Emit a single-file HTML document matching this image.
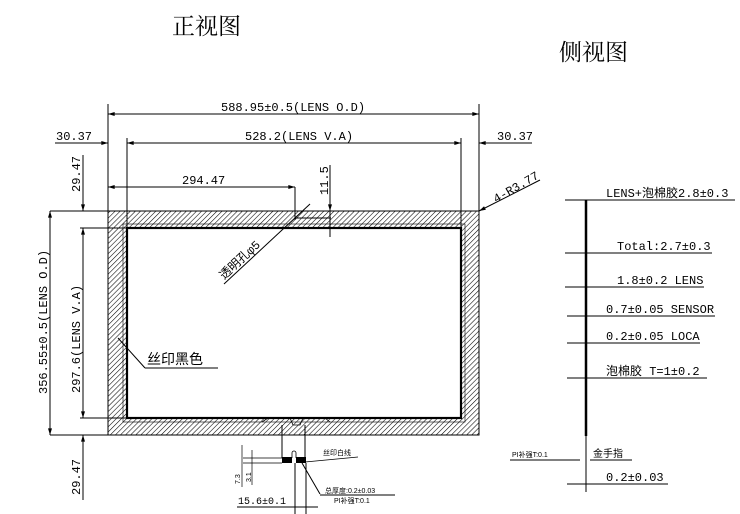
<!DOCTYPE html>
<html><head><meta charset="utf-8"><style>
html,body{margin:0;padding:0;background:#fff}
svg{display:block}
text{font-family:"Liberation Mono","Noto Sans CJK SC",monospace;fill:#000}
.d{font-size:12px}
.s{font-size:7px;font-family:"Liberation Sans","Noto Sans CJK SC",sans-serif}
</style></head><body>
<svg width="740" height="514" viewBox="0 0 740 514" xmlns="http://www.w3.org/2000/svg">
<defs>
<pattern id="h" patternUnits="userSpaceOnUse" width="3.6" height="3.6" patternTransform="rotate(45)">
<line x1="0" y1="0" x2="0" y2="3.6" stroke="#000" stroke-width="1.1"/>
</pattern>
<marker id="a" viewBox="0 0 10 6" refX="10" refY="3" markerWidth="9" markerHeight="4" orient="auto-start-reverse"><path d="M0,0 L10,3 L0,6z" fill="#000"/></marker>
</defs>
<text x="172" y="34" style="font-size:23px;font-family:'Liberation Serif','Noto Serif CJK SC',serif">正视图</text>
<text x="559" y="60" style="font-size:23px;font-family:'Liberation Serif','Noto Serif CJK SC',serif">侧视图</text>

<g stroke="#000" fill="none" stroke-width="1">
<path d="M108,211 H479 V435 H108 Z M127,228 V418 H461 V228 Z" fill="url(#h)" fill-rule="evenodd" stroke="none"/>
<rect x="108" y="211" width="371" height="224"/>
<rect x="127" y="228" width="334" height="190" stroke-width="2.2"/>
<rect x="123" y="224" width="342" height="198" stroke-width="0.6"/>
<line x1="108" y1="104" x2="108" y2="211"/>
<line x1="479" y1="104" x2="479" y2="211"/>
<line x1="127" y1="138" x2="127" y2="228"/>
<line x1="461" y1="138" x2="461" y2="228"/>
<line x1="50" y1="211" x2="108" y2="211"/>
<line x1="80" y1="228" x2="127" y2="228"/>
<line x1="80" y1="418" x2="127" y2="418"/>
<line x1="50" y1="435" x2="108" y2="435"/>
<line x1="108" y1="114" x2="479" y2="114" marker-start="url(#a)" marker-end="url(#a)"/>
<line x1="127" y1="143" x2="461" y2="143" marker-start="url(#a)" marker-end="url(#a)"/>
<line x1="55" y1="143" x2="108" y2="143" marker-end="url(#a)"/>
<line x1="479" y1="143" x2="532" y2="143" marker-start="url(#a)"/>
<line x1="108" y1="187" x2="295" y2="187" marker-start="url(#a)" marker-end="url(#a)"/>
<line x1="295" y1="187" x2="295" y2="220"/>
<line x1="295" y1="218" x2="331" y2="218"/>
<line x1="330" y1="165" x2="330" y2="237"/>
<line x1="330" y1="200" x2="330" y2="211" marker-end="url(#a)"/>
<line x1="310" y1="204" x2="224" y2="284"/>
<line x1="540" y1="180" x2="479" y2="211" marker-end="url(#a)"/>
<line x1="83" y1="155" x2="83" y2="211" marker-end="url(#a)"/>
<line x1="83" y1="228" x2="83" y2="418" marker-start="url(#a)" marker-end="url(#a)"/>
<line x1="50" y1="211" x2="50" y2="435" marker-start="url(#a)" marker-end="url(#a)"/>
<line x1="83" y1="435" x2="83" y2="500" marker-start="url(#a)"/>
<line x1="118" y1="338" x2="145" y2="368"/>
<line x1="145" y1="368" x2="218" y2="368"/>
<path d="M262,422 L268,418 H290 L293,425 H300 L303,418 H325 L330,422" stroke-width="0.8"/>
<line x1="282" y1="425" x2="282" y2="458"/>
<line x1="305" y1="425" x2="305" y2="458"/>
<line x1="243" y1="458" x2="282" y2="458" stroke-width="0.7"/>
<line x1="243" y1="463" x2="282" y2="463" stroke-width="0.7"/>
<line x1="242" y1="445" x2="242" y2="487" stroke-width="0.7"/>
<line x1="252" y1="450" x2="252" y2="485" stroke-width="0.7"/>
<line x1="295" y1="463" x2="295" y2="514"/>
<line x1="306" y1="463" x2="306" y2="514"/>
<line x1="237" y1="507" x2="318" y2="507"/>
<line x1="305" y1="462" x2="358" y2="457" stroke-width="0.7"/>
<line x1="302" y1="463" x2="320" y2="494"/>
<line x1="320" y1="495" x2="395" y2="495"/>
<path d="M292,458 V453 A2,2 0 0 1 296,453 V458" stroke-width="0.8"/>
<line x1="586" y1="200" x2="586" y2="436" stroke-width="2.5"/>
<line x1="586" y1="436" x2="586" y2="492"/>
<line x1="565" y1="200" x2="735" y2="200"/>
<line x1="565" y1="253" x2="712" y2="253"/>
<line x1="565" y1="287" x2="704" y2="287"/>
<line x1="567" y1="316" x2="715" y2="316"/>
<line x1="567" y1="343" x2="700" y2="343"/>
<line x1="567" y1="378" x2="707" y2="378"/>
<line x1="510" y1="460" x2="580" y2="460"/>
<line x1="590" y1="460" x2="632" y2="460"/>
<line x1="567" y1="484" x2="668" y2="484"/>
</g>
<rect x="282" y="457" width="10" height="6" fill="#000"/>
<rect x="296" y="457" width="10" height="6" fill="#000"/>

<text class="d" x="221" y="111">588.95±0.5(LENS O.D)</text>
<text class="d" x="245" y="140">528.2(LENS V.A)</text>
<text class="d" x="56" y="140">30.37</text>
<text class="d" x="497" y="140">30.37</text>
<text class="d" x="182" y="184">294.47</text>
<text class="d" transform="translate(328,195) rotate(-90)">11.5</text>
<text class="d" transform="translate(224,280) rotate(-43)">透明孔φ5</text>
<text class="d" transform="translate(496,203) rotate(-30)">4-R3.77</text>
<text class="d" transform="translate(80,192) rotate(-90)">29.47</text>
<text class="d" transform="translate(80,393) rotate(-90)">297.6(LENS V.A)</text>
<text class="d" transform="translate(47,394) rotate(-90)">356.55±0.5(LENS O.D)</text>
<text class="d" transform="translate(80,495) rotate(-90)">29.47</text>
<text x="147" y="364" style="font-size:14px;font-family:'Liberation Sans','Noto Sans CJK SC',sans-serif">丝印黑色</text>
<text class="s" transform="translate(240,484) rotate(-90)">7.3</text>
<text class="s" transform="translate(251,482) rotate(-90)">3.1</text>
<text class="d" x="238" y="504" style="font-size:10px">15.6±0.1</text>
<text class="s" x="323" y="455">丝印白线</text>
<text class="s" x="325" y="493">总厚度:0.2±0.03</text>
<text class="s" x="334" y="503">PI补强T:0.1</text>

<text class="d" x="606" y="197">LENS+泡棉胶2.8±0.3</text>
<text class="d" x="617" y="250">Total:2.7±0.3</text>
<text class="d" x="617" y="284">1.8±0.2 LENS</text>
<text class="d" x="606" y="313">0.7±0.05 SENSOR</text>
<text class="d" x="606" y="340">0.2±0.05 LOCA</text>
<text class="d" x="606" y="375">泡棉胶 T=1±0.2</text>
<text class="s" x="512" y="457">PI补强T:0.1</text>
<text class="d" x="593" y="457" style="font-size:10px">金手指</text>
<text class="d" x="606" y="481">0.2±0.03</text>
</svg>
</body></html>
